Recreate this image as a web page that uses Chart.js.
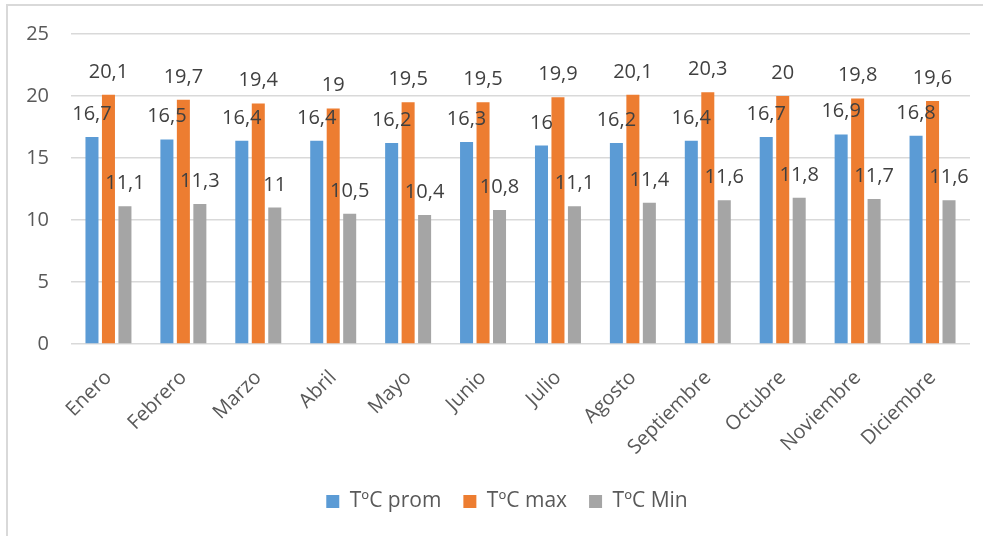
<!DOCTYPE html>
<html>
<head>
<meta charset="utf-8">
<script src="https://cdn.jsdelivr.net/npm/chart.js@4.4.1/dist/chart.umd.min.js"></script>
<style>
  html, body { margin: 0; padding: 0; background: #fff; }
  #wrap { position: relative; width: 985px; height: 536px; overflow: hidden; }
  #frame { position: absolute; left: 6px; top: 4px; width: 977px; height: 540px;
           border-top: 2px solid #d9d9d9; border-left: 2px solid #d9d9d9; box-sizing: border-box; }
  #box { position: absolute; left: 0; top: 0; width: 985px; height: 536px; }
</style>
</head>
<body>
<div id="wrap">
  <div id="frame"></div>
  <div id="box"><canvas id="chart"></canvas></div>
</div>
<script>
// months
const months = ['Enero', 'Febrero', 'Marzo', 'Abril', 'Mayo', 'Junio', 'Julio',
  'Agosto', 'Septiembre', 'Octubre', 'Noviembre', 'Diciembre'];

// temperatures
const tempProm = [16.7, 16.5, 16.4, 16.4, 16.2, 16.3, 16, 16.2, 16.4, 16.7, 16.9, 16.8];
const tempMax = [20.1, 19.7, 19.4, 19, 19.5, 19.5, 19.9, 20.1, 20.3, 20, 19.8, 19.6];
const tempMin = [11.1, 11.3, 11, 10.5, 10.4, 10.8, 11.1, 11.4, 11.6, 11.8, 11.7, 11.6];

const seriesNames = ['TºC prom', 'TºC max', 'TºC Min'];
const FONT = '"Open Sans", sans-serif';

// value labels above each bar, Excel style (decimal comma)
const barLabels = {
  id: 'barLabels',
  afterDatasetsDraw(chart) {
    const ctx = chart.ctx;
    ctx.save();
    ctx.font = '20px ' + FONT;
    ctx.fillStyle = '#404040';
    ctx.textAlign = 'center';
    ctx.textBaseline = 'alphabetic';
    chart.data.datasets.forEach((ds, i) => {
      const meta = chart.getDatasetMeta(i);
      meta.data.forEach((bar, j) => {
        const txt = String(ds.data[j]).replace('.', ',');
        ctx.fillText(txt, bar.x, bar.y - 17);
      });
    });
    ctx.restore();
  }
};

// the legend in the original is centred on the whole (partly cropped) chart box
const legendShift = {
  id: 'legendShift',
  afterLayout(chart) {
    chart.legend.left += 22;
    chart.legend.right += 22;
  }
};

new Chart(document.getElementById('chart'), {
  type: 'bar',
  data: {
    labels: months,
    datasets: [
      { label: seriesNames[0], data: tempProm, backgroundColor: '#5b9bd5' },
      { label: seriesNames[1], data: tempMax, backgroundColor: '#ed7d31' },
      { label: seriesNames[2], data: tempMin, backgroundColor: '#a5a5a5' },
    ],
  },
  options: {
    responsive: true,
    maintainAspectRatio: false,
    animation: false,
    datasets: {
      bar: { categoryPercentage: 0.66, barPercentage: 0.79 },
    },
    layout: { padding: { top: 33, right: 15, left: 0, bottom: 14 } },
    plugins: {
      tooltip: { enabled: false },
      legend: {
        position: 'bottom',
        labels: {
          font: { family: FONT, size: 21 },
          color: '#595959',
          boxWidth: 13,
          boxHeight: 13,
          padding: 22,
        },
      },
    },
    scales: {
      x: {
        grid: { display: false },
        border: { display: false },
        ticks: {
          font: { family: FONT, size: 20 },
          color: '#595959',
          minRotation: 45,
          maxRotation: 45,
          padding: 14,
        },
        afterFit(scale) { scale.height = 125; },
      },
      y: {
        min: 0,
        max: 25,
        ticks: {
          stepSize: 5,
          font: { family: FONT, size: 20 },
          color: '#595959',
          padding: 22,
        },
        grid: { color: '#d9d9d9', lineWidth: 1.5, drawTicks: false },
        border: { display: false },
        afterFit(scale) { scale.width = 71; },
      },
    },
  },
  plugins: [barLabels, legendShift],
});
</script>
</body>
</html>
